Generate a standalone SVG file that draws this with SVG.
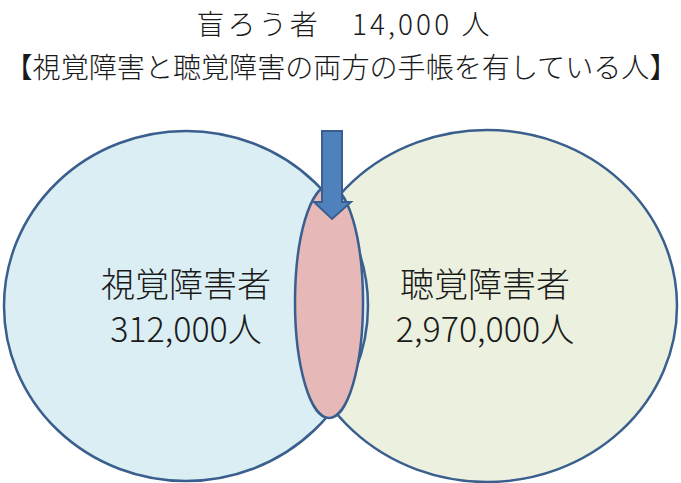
<svg xmlns="http://www.w3.org/2000/svg" width="681" height="483" viewBox="0 0 681 483">
<style>
.t{font-family:"Noto Sans CJK JP","Noto Sans CJK SC",sans-serif;fill:#1a1a1a;font-weight:300}
.big{font-size:34px}
.ttl{font-size:28px}
.circ{stroke:#3A5F8E;stroke-width:2.5}
</style>
<rect width="681" height="483" fill="#ffffff"/>
<g id="title">
<text class="t ttl" x="343" y="35" text-anchor="middle" textLength="293" lengthAdjust="spacing">盲ろう者　14,000 人</text>
<text class="t ttl" x="341" y="78" text-anchor="middle" textLength="673" lengthAdjust="spacingAndGlyphs">【視覚障害と聴覚障害の両方の手帳を有している人】</text>
</g>
<g id="hearing">
<ellipse class="circ" cx="487" cy="306" rx="190" ry="176" fill="#EBF1DE"/>
</g>
<g id="visual">
<ellipse class="circ" cx="186" cy="306" rx="182" ry="175" fill="#DAEEF3"/>
</g>
<g id="both">
<ellipse class="circ" cx="329" cy="302" rx="34" ry="116" fill="#E6B9B8"/>
</g>
<g id="connectors">
<path d="M322,131 L342,131 L342,202 L351,202 L332,219 L314,202 L322,202 Z" fill="#4F81BD" stroke="#3A5F8E" stroke-width="2"/>
</g>
<g id="labels">
<text class="t big" text-anchor="middle"><tspan x="186" y="297">視覚障害者</tspan><tspan x="186" y="342">312,000人</tspan></text>
<text class="t big" text-anchor="middle"><tspan x="485" y="297">聴覚障害者</tspan><tspan x="485" y="342">2,970,000人</tspan></text>
</g>
</svg>
